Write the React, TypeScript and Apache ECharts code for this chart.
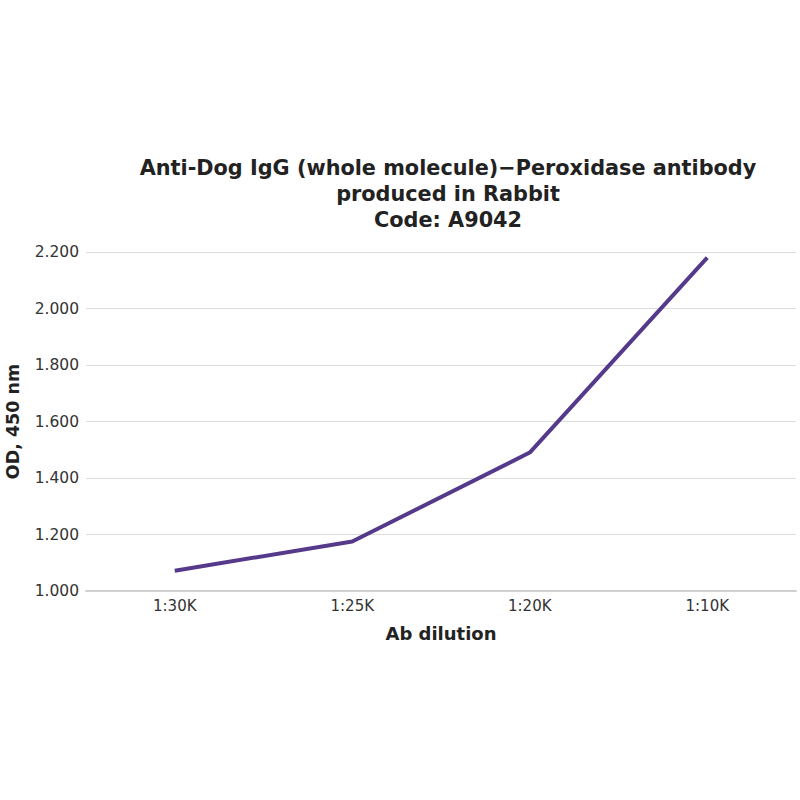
import React, { useEffect, useRef } from "react";
import * as echarts from "echarts";

const categories = ["1:30K", "1:25K", "1:20K", "1:10K"];
const odValues = [1.072, 1.175, 1.49, 2.18];
const yTicks = { min: 1.0, max: 2.2, interval: 0.2 };

export default function App() {
  const ref = useRef<HTMLDivElement>(null);
  useEffect(() => {
    if (!ref.current) return;
    const chart = echarts.init(ref.current, null, { renderer: "svg" });
    chart.setOption({
      animation: false,
      backgroundColor: "#ffffff",
      title: {
        text: "Anti-Dog IgG (whole molecule)\u2212Peroxidase antibody\nproduced in Rabbit\nCode: A9042",
        left: 443,
        top: 150,
        textAlign: "center",
        textStyle: {
          fontFamily: "DejaVu Sans",
          fontSize: 20.8,
          fontWeight: "bold",
          color: "#222",
          lineHeight: 26,
        },
      },
      grid: { left: 86, right: 4, top: 252, bottom: 209, containLabel: false, outerBoundsMode: "none" },
      xAxis: {
        type: "category",
        data: categories,
        boundaryGap: true,
        name: "Ab dilution",
        nameLocation: "middle",
        nameGap: 33,
        nameTextStyle: { fontFamily: "DejaVu Sans", fontSize: 18, fontWeight: "bold", color: "#222" },
        axisLine: { show: true, lineStyle: { color: "#d0d0d0", width: 2 } },
        axisTick: { show: false },
        axisLabel: { fontFamily: "DejaVu Sans", fontSize: 15, color: "#333", margin: 7 },
      },
      yAxis: {
        type: "value",
        min: yTicks.min,
        max: yTicks.max,
        interval: yTicks.interval,
        name: "OD, 450 nm",
        nameLocation: "middle",
        nameGap: 64,
        nameTextStyle: { fontFamily: "DejaVu Sans", fontSize: 17.5, fontWeight: "bold", color: "#222" },
        axisLine: { show: false },
        axisTick: { show: false },
        axisLabel: {
          fontFamily: "DejaVu Sans",
          fontSize: 15.5,
          color: "#333",
          margin: 7,
          formatter: (v: number) => v.toFixed(3),
        },
        splitLine: { lineStyle: { color: "#dcdcdc", width: 1 } },
      },
      series: [
        {
          type: "line",
          data: odValues,
          showSymbol: false,
          symbol: "none",
          lineStyle: { color: "#553a8c", width: 4 },
        },
      ],
    });
    return () => chart.dispose();
  }, []);
  return (
    <div
      ref={ref}
      style={{ position: "absolute", left: 0, top: 0, width: 800, height: 800 }}
    />
  );
}
